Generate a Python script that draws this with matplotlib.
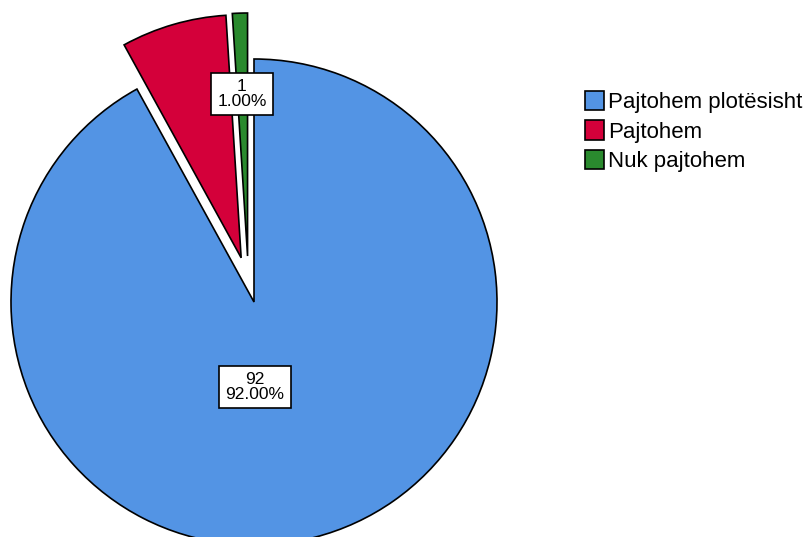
import matplotlib
matplotlib.use("Agg")
import matplotlib.pyplot as plt
from matplotlib.patches import Patch

plt.rcParams['font.family'] = ['Liberation Sans', 'DejaVu Sans']

categories = ["Pajtohem plotësisht", "Pajtohem", "Nuk pajtohem"]
counts = [92, 7, 1]
percents = [92.00, 7.00, 1.00]
colors = ["#5394E4", "#D4003A", "#2A8A2E"]

fig = plt.figure(figsize=(8.12, 5.37), dpi=100)
ax = fig.add_axes([0, 0, 1, 1])

cx, cy, r = 254, 235, 243
# explode is in data units here (pixels), not a fraction of the radius
wedges, _ = ax.pie(counts, colors=colors, startangle=90, counterclock=False,
                   radius=r, center=(cx, cy), explode=[0, 46, 46],
                   wedgeprops=dict(edgecolor="black", linewidth=1.2))
# nudge the thin green slice a little further left
gx, gy = wedges[2].center
wedges[2].set_center((gx - 5, gy))
ax.set_xlim(0, 812)
ax.set_ylim(0, 537)
ax.set_aspect("equal")
ax.axis("off")

box = dict(boxstyle="square,pad=0.35", facecolor="white", edgecolor="black", linewidth=1.2)
# value labels for the big slice and the small green slice
ax.text(cx + 1, cy - 85, f"{counts[0]}\n{percents[0]:.2f}%", ha="center", va="center",
        fontsize=12.5, linespacing=1.0, bbox=box)
ax.text(cx - 12, cy + 208, f"{counts[2]}\n{percents[2]:.2f}%", ha="center", va="center",
        fontsize=12.5, linespacing=1.0, bbox=box)

handles = [Patch(facecolor=c, edgecolor="black", linewidth=1.2) for c in colors]
fig.legend(handles, categories, loc="upper left", bbox_to_anchor=(585 / 812, 1 - 91 / 537),
           frameon=False, fontsize=16, handlelength=0.85, handleheight=0.95,
           handletextpad=0.2, labelspacing=0.32, borderpad=0, borderaxespad=0)

fig.savefig("out.png", dpi=100)
